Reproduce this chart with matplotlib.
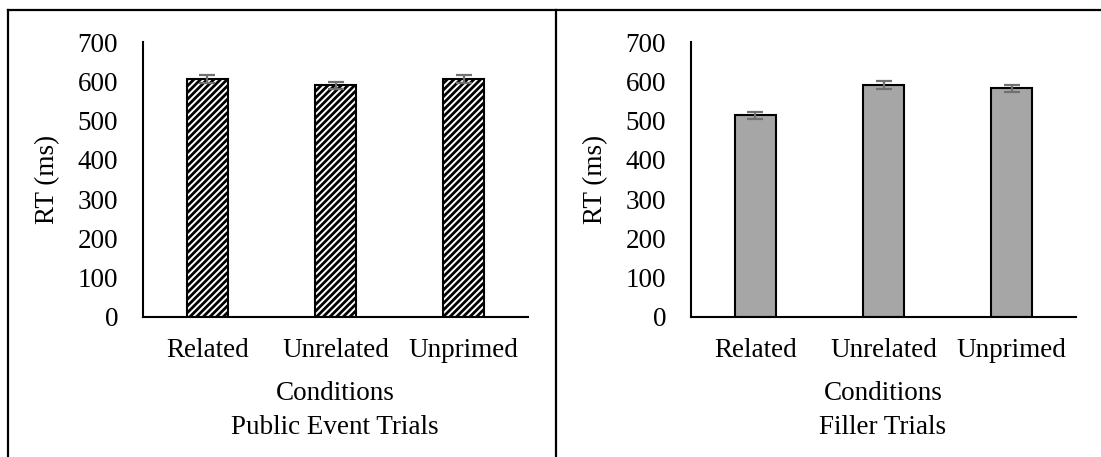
import matplotlib
matplotlib.use("Agg")
import matplotlib.pyplot as plt
from matplotlib.lines import Line2D

# Reaction-time data (ms) by priming condition
conditions = ["Related", "Unrelated", "Unprimed"]
public_event_rt = [606, 590, 606]
public_event_err = [10, 9, 11]
filler_rt = [514, 591, 582]
filler_err = [9, 11, 9]
y_ticks = [0, 100, 200, 300, 400, 500, 600, 700]

plt.rcParams["font.family"] = ["Liberation Serif", "DejaVu Serif"]
plt.rcParams["hatch.linewidth"] = 2.0

W, H = 1101, 457
fig = plt.figure(figsize=(W / 100, H / 100), dpi=100)
fig.patch.set_facecolor("white")

FS = 19.5


def panel(left_px, values, errs, title, hatch=None, face="white"):
    ax = fig.add_axes([left_px / W, (H - 317) / H, 385 / W, 275 / H])
    x = range(len(conditions))
    ax.bar(x, values, width=0.32, color=face, edgecolor="black",
           linewidth=1.5, hatch=hatch, zorder=2)
    ax.errorbar(x, values, yerr=errs, fmt="none", ecolor="#707070",
                elinewidth=1.6, capsize=6, capthick=1.6, zorder=3)
    ax.set_xlim(-0.5, 2.5)
    ax.set_ylim(0, 700)
    ax.set_yticks(y_ticks)
    ax.set_yticklabels([str(t) for t in y_ticks], fontsize=FS)
    ax.set_xticks(list(x))
    ax.set_xticklabels(conditions, fontsize=FS)
    ax.tick_params(axis="y", length=0, pad=18)
    ax.tick_params(axis="x", length=0, pad=15)
    for s in ("top", "right"):
        ax.spines[s].set_visible(False)
    for s in ("left", "bottom"):
        ax.spines[s].set_linewidth(1.5)
        ax.spines[s].set_color("black")
    ax.set_ylabel("RT (ms)", fontsize=FS)
    ax.yaxis.set_label_coords(-83 / 385, 0.5)
    cx = (left_px + 192) / W
    fig.text(cx, (H - 394) / H, "Conditions", ha="center", va="center",
             fontsize=FS)
    fig.text(cx, (H - 427) / H, title, ha="center", va="center",
             fontsize=FS)
    return ax


panel(143, public_event_rt, public_event_err, "Public Event Trials",
      hatch="/////", face="white")
panel(691, filler_rt, filler_err, "Filler Trials", face="#a6a6a6")

# Enclosing frame lines
top = (H - 10) / H
frame = dict(color="black", linewidth=1.6, transform=fig.transFigure)
fig.add_artist(Line2D([8 / W, 1.0], [top, top], **frame))
fig.add_artist(Line2D([8 / W, 8 / W], [0, top], **frame))
fig.add_artist(Line2D([556 / W, 556 / W], [0, top], **frame))

fig.savefig("out.png", dpi=100)
